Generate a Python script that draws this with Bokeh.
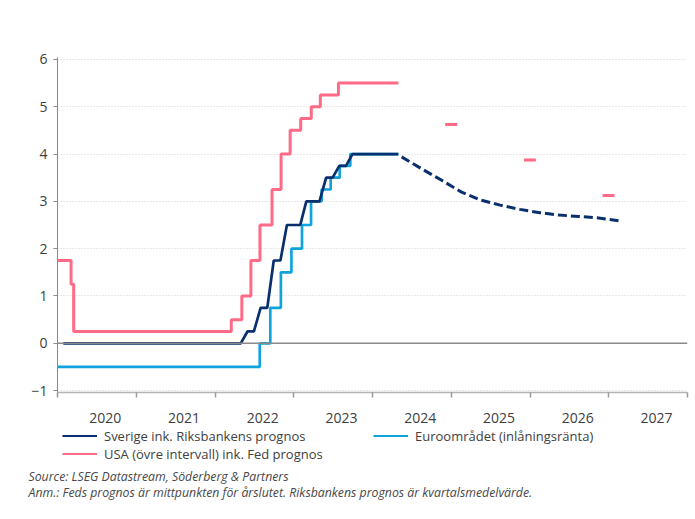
import pandas as pd
from bokeh.plotting import figure
from bokeh.models import (Range1d, FixedTicker, DatetimeTickFormatter, Legend,
                          LegendItem, Label, Span)
from bokeh.embed import file_html
from bokeh.resources import INLINE

# ---------------- data ----------------
usa_dates = ["2019-12-31", "2020-03-04", "2020-03-16", "2022-03-17", "2022-05-05",
             "2022-06-16", "2022-07-28", "2022-09-22", "2022-11-03", "2022-12-15",
             "2023-02-02", "2023-03-23", "2023-05-04", "2023-07-27", "2024-04-30"]
usa_values = [1.75, 1.25, 0.25, 0.50, 1.00, 1.75, 2.50, 3.25, 4.00, 4.50,
              4.75, 5.00, 5.25, 5.50, 5.50]

euro_dates = ["2019-12-31", "2022-07-27", "2022-09-14", "2022-11-02", "2022-12-21",
              "2023-02-08", "2023-03-22", "2023-05-10", "2023-06-21", "2023-08-02",
              "2023-09-20", "2024-04-30"]
euro_values = [-0.50, 0.00, 0.75, 1.50, 2.00, 2.50, 3.00, 3.25, 3.50, 3.75, 4.00, 4.00]

swe_dates = ["2020-01-28", "2022-04-30", "2022-05-31", "2022-06-30", "2022-07-31",
             "2022-08-31", "2022-09-30", "2022-10-31", "2022-11-30", "2023-01-31",
             "2023-02-28", "2023-04-30", "2023-05-31", "2023-06-30", "2023-07-31",
             "2023-08-31", "2023-09-30", "2024-04-30"]
swe_values = [0.00, 0.00, 0.25, 0.25, 0.75, 0.75, 1.75, 1.75, 2.50, 2.50,
              3.00, 3.00, 3.50, 3.50, 3.75, 3.75, 4.00, 4.00]

swe_fc_dates = ["2024-05-15", "2024-08-15", "2024-11-15", "2025-02-15", "2025-05-15",
                "2025-08-15", "2025-11-15", "2026-02-15", "2026-05-15", "2026-08-15",
                "2026-11-15", "2027-02-15"]
swe_fc_values = [3.94, 3.69, 3.45, 3.20, 3.03, 2.92, 2.83, 2.76, 2.71, 2.68, 2.65, 2.59]

fed_fc_dates = ["2024-12-31", "2025-12-31", "2026-12-31"]
fed_fc_values = [4.625, 3.875, 3.125]

years = [2020, 2021, 2022, 2023, 2024, 2025, 2026, 2027]
y_ticks = [-1, 0, 1, 2, 3, 4, 5, 6]

series_labels = ["Sverige ink. Riksbankens prognos",
                 "USA (övre intervall) ink. Fed prognos",
                 "Euroområdet (inlåningsränta)"]
source_text = "Source: LSEG Datastream, Söderberg & Partners"
note_text = "Anm.: Feds prognos är mittpunkten för årslutet. Riksbankens prognos är kvartalsmedelvärde."

# ---------------- styles ----------------
NAVY = "#0a2f6e"
PINK = "#ff6b86"
LBLUE = "#11a3dc"
TXT = "#404040"
FONT = "Open Sans"


def ms(d):
    return pd.Timestamp(d).value // 10**6


p = figure(frame_width=630, frame_height=335, x_axis_type="datetime",
           output_backend="svg", toolbar_location=None,
           x_range=Range1d(ms("2020-01-01"), ms("2028-01-01")),
           y_range=Range1d(-1.04, 6.04),
           min_border_left=57, min_border_right=3, min_border_top=57,
           min_border_bottom=0)
p.outline_line_color = None
p.background_fill_color = "white"
p.border_fill_color = "white"

# grid
p.xgrid.visible = False
p.ygrid.ticker = FixedTicker(ticks=y_ticks)
p.ygrid.grid_line_color = "#d0d0d0"
p.ygrid.grid_line_dash = "1 2"
p.ygrid.grid_line_width = 1

p.add_layout(Span(location=0, dimension="width", line_color="#8a8a8a",
                  line_width=1.5))

# y axis
p.yaxis.ticker = FixedTicker(ticks=y_ticks)
p.yaxis.axis_line_color = "#8a8a8a"
p.yaxis.major_tick_line_color = "#8a8a8a"
p.yaxis.major_tick_out = 4
p.yaxis.major_tick_in = 0
p.yaxis.minor_tick_line_color = None
p.yaxis.major_label_text_font = FONT
p.yaxis.major_label_text_font_size = "14px"
p.yaxis.major_label_text_color = TXT
p.yaxis.major_label_standoff = 6

# x axis: labels mid-year, minor ticks at year boundaries
label_ticks = [ms(f"{y}-08-10") for y in years]
year_bounds = [ms(f"{y}-01-01") for y in years + [2028]]
p.xaxis.ticker = FixedTicker(ticks=label_ticks, minor_ticks=year_bounds)
p.xaxis.formatter = DatetimeTickFormatter(
    microseconds="%Y", milliseconds="%Y", seconds="%Y", minsec="%Y",
    minutes="%Y", hourmin="%Y", hours="%Y", days="%Y", months="%Y", years="%Y")
p.xaxis.axis_line_color = "#b5b5b5"
p.xaxis.axis_line_width = 1.5
p.xaxis.major_tick_out = 0
p.xaxis.major_tick_in = 0
p.xaxis.minor_tick_out = 5
p.xaxis.minor_tick_in = 0
p.xaxis.minor_tick_line_color = "#9a9a9a"
p.xaxis.minor_tick_line_width = 1.5
p.xaxis.major_label_text_font = FONT
p.xaxis.major_label_text_font_size = "14px"
p.xaxis.major_label_text_color = TXT
p.xaxis.major_label_standoff = 15

# series
p.step(pd.to_datetime(usa_dates), usa_values, mode="after",
       line_color=PINK, line_width=3)
p.step(pd.to_datetime(euro_dates), euro_values, mode="after",
       line_color=LBLUE, line_width=2.7)
p.line(pd.to_datetime(swe_dates), swe_values, line_color=NAVY, line_width=2.7)
p.line(pd.to_datetime(swe_fc_dates), swe_fc_values, line_color=NAVY,
       line_width=3, line_dash="9 4")
p.scatter(pd.to_datetime(fed_fc_dates), fed_fc_values, marker="dash", size=12,
          line_color=PINK, line_width=3)

# ---------------- legend + notes strip ----------------
# Same series again, on a strip whose range keeps them out of view: they only
# feed the legend keys.
q = figure(width=690, height=93, x_axis_type="datetime", output_backend="svg",
           toolbar_location=None, x_range=Range1d(0, 1), y_range=Range1d(0, 1),
           x_axis_location=None, y_axis_location=None,
           min_border_left=0, min_border_right=0, min_border_top=0,
           min_border_bottom=0)
q.outline_line_color = None
q.xgrid.visible = False
q.ygrid.visible = False
q.border_fill_color = "white"

k_swe = q.line(pd.to_datetime(swe_dates), swe_values, line_color=NAVY, line_width=3)
k_usa = q.line(pd.to_datetime(usa_dates), usa_values, line_color=PINK, line_width=3)
k_euro = q.line(pd.to_datetime(euro_dates), euro_values, line_color=LBLUE, line_width=3)

legend = Legend(items=[LegendItem(label=series_labels[0], renderers=[k_swe]),
                       LegendItem(label=series_labels[1], renderers=[k_usa]),
                       LegendItem(label=series_labels[2], renderers=[k_euro])],
                orientation="vertical", nrows=2, location=(62, 55),
                margin=0, padding=0, spacing=0,
                glyph_width=35, glyph_height=2, label_height=10,
                label_width=269, label_standoff=7,
                label_text_font=FONT, label_text_font_size="13px",
                label_text_line_height=1.0,
                label_text_color=TXT, label_text_baseline="top",
                border_line_color=None, background_fill_alpha=0)
q.add_layout(legend)

for txt, yy in [(source_text, 42), (note_text, 26)]:
    q.add_layout(Label(x=28, y=yy, x_units="screen", y_units="screen", text=txt,
                       text_font=FONT, text_font_size="12.3px", text_font_style="italic",
                       text_color="#484848", text_baseline="middle"))

open("out.html", "w").write(file_html([p, q], INLINE))
